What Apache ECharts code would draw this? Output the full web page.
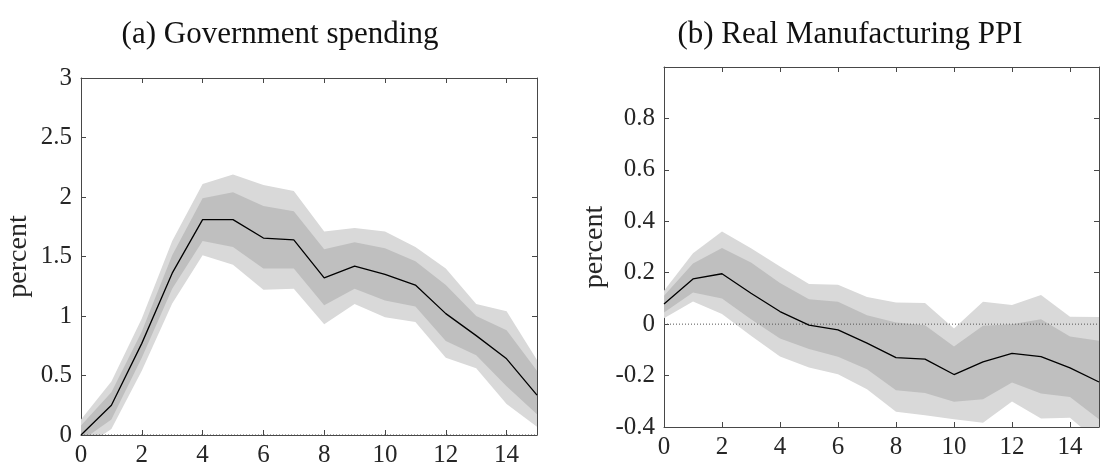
<!DOCTYPE html>
<html>
<head>
<meta charset="utf-8">
<script src="https://cdn.jsdelivr.net/npm/echarts@6/dist/echarts.min.js"></script>
<style>
  html, body { margin: 0; padding: 0; background: #fff; }
  #chart { width: 1102px; height: 468px; }
</style>
</head>
<body>
<div id="chart"></div>
<script>
// Horizons (quarters after the shock)
const horizons = [0, 1, 2, 3, 4, 5, 6, 7, 8, 9, 10, 11, 12, 13, 14, 15];

// (a) Government spending: median response and credible bands (percent)
const govMedian  = [0.00, 0.25, 0.77, 1.36, 1.81, 1.81, 1.655, 1.64, 1.32, 1.42, 1.35, 1.26, 1.02, 0.835, 0.64, 0.335];
const govInnerLo = [-0.05, 0.13, 0.65, 1.23, 1.63, 1.58, 1.40, 1.40, 1.09, 1.23, 1.13, 1.08, 0.79, 0.67, 0.41, 0.175];
const govInnerHi = [0.08, 0.36, 0.87, 1.51, 1.99, 2.04, 1.925, 1.88, 1.56, 1.62, 1.57, 1.46, 1.26, 1.00, 0.88, 0.54];
const govOuterLo = [-0.12, 0.05, 0.54, 1.105, 1.51, 1.43, 1.22, 1.23, 0.93, 1.10, 0.99, 0.95, 0.65, 0.56, 0.26, 0.07];
const govOuterHi = [0.13, 0.45, 0.98, 1.63, 2.11, 2.19, 2.10, 2.05, 1.71, 1.74, 1.71, 1.58, 1.40, 1.10, 1.04, 0.63];

// (b) Real Manufacturing PPI: median response and credible bands (percent)
const ppiMedian  = [0.078, 0.176, 0.196, 0.12, 0.049, -0.004, -0.022, -0.074, -0.13, -0.136, -0.196, -0.147, -0.114, -0.126, -0.17, -0.225];
const ppiInnerLo = [0.045, 0.123, 0.10, 0.019, -0.056, -0.097, -0.127, -0.175, -0.257, -0.268, -0.302, -0.292, -0.227, -0.27, -0.283, -0.37];
const ppiInnerHi = [0.11, 0.236, 0.296, 0.24, 0.16, 0.097, 0.087, 0.035, 0.006, -0.004, -0.087, -0.006, 0.0, 0.019, -0.048, -0.065];
const ppiOuterLo = [0.023, 0.088, 0.039, -0.045, -0.126, -0.169, -0.195, -0.253, -0.341, -0.354, -0.37, -0.383, -0.301, -0.367, -0.364, -0.46];
const ppiOuterHi = [0.13, 0.276, 0.36, 0.295, 0.224, 0.156, 0.153, 0.106, 0.084, 0.082, -0.017, 0.087, 0.074, 0.113, 0.029, 0.028];

// Axis settings and labels
const xTickStep = 2;
const govYRange = [0, 3, 0.5];
const ppiYRange = [-0.4, 1.0, 0.2];
const panelTitles = ['(a) Government spending', '(b) Real Manufacturing PPI'];
const yAxisName = 'percent';

const SERIF = '"Liberation Serif", "DejaVu Serif", serif';
const AXIS_COLOR = '#474747';
const LABEL_COLOR = '#262626';
const OUTER_FILL = '#d9d9d9';
const INNER_FILL = '#bfbfbf';

function pairs(values) {
  return horizons.map((h, i) => [h, values[i]]);
}

function xAxisDef(gridIndex, position) {
  const bottom = position === 'bottom';
  return {
    type: 'value', gridIndex, position,
    min: 0, max: 15, interval: xTickStep,
    axisLine: { show: true, onZero: false, lineStyle: { color: AXIS_COLOR, width: 1 } },
    axisTick: { show: true, inside: true, length: 5, lineStyle: { color: AXIS_COLOR } },
    axisLabel: {
      show: bottom, margin: 8, color: LABEL_COLOR, fontFamily: SERIF, fontSize: 25,
      formatter: v => (v === 15 ? '' : String(v))
    },
    splitLine: { show: false }
  };
}

function yAxisDef(gridIndex, position, range, withName, nameGap) {
  const left = position === 'left';
  return {
    type: 'value', gridIndex, position,
    min: range[0], max: range[1], interval: range[2],
    axisLine: { show: true, onZero: false, lineStyle: { color: AXIS_COLOR, width: 1 } },
    axisTick: { show: true, inside: true, length: 5, lineStyle: { color: AXIS_COLOR } },
    axisLabel: {
      show: left, margin: 9, color: LABEL_COLOR, fontFamily: SERIF, fontSize: 25,
      formatter: v => (range[1] === 1.0 && Math.abs(v - range[1]) < 1e-9 ? '' : String(+v.toFixed(2)))
    },
    splitLine: { show: false },
    name: withName ? yAxisName : '',
    nameLocation: 'middle',
    nameGap: nameGap,
    nameRotate: 90,
    nameTextStyle: { color: LABEL_COLOR, fontFamily: SERIF, fontSize: 28 }
  };
}

// Filled band between a lower and an upper bound, projected through the axes
function bandSeries(axisIdx, lo, hi, color) {
  return {
    type: 'custom', xAxisIndex: axisIdx, yAxisIndex: axisIdx,
    clip: true, silent: true, animation: false,
    data: [[horizons[0], lo[0]]],
    renderItem: (params, api) => {
      const pts = [];
      for (let i = 0; i < horizons.length; i++) pts.push(api.coord([horizons[i], hi[i]]));
      for (let i = horizons.length - 1; i >= 0; i--) pts.push(api.coord([horizons[i], lo[i]]));
      return { type: 'polygon', shape: { points: pts }, style: { fill: color, stroke: null } };
    }
  };
}

function panelSeries(axisIdx, med, inLo, inHi, outLo, outHi) {
  return [
    bandSeries(axisIdx, outLo, outHi, OUTER_FILL),
    bandSeries(axisIdx, inLo, inHi, INNER_FILL),
    {
      type: 'line', xAxisIndex: axisIdx, yAxisIndex: axisIdx, animation: false,
      data: [[0, 0], [15, 0]], symbol: 'none', silent: true,
      lineStyle: { color: '#555', width: 1, type: [1, 2] }
    },
    {
      type: 'line', xAxisIndex: axisIdx, yAxisIndex: axisIdx, animation: false,
      data: pairs(med), symbol: 'none', silent: true,
      lineStyle: { color: '#000', width: 1.3 }
    }
  ];
}

const chart = echarts.init(document.getElementById('chart'), null, { renderer: 'canvas' });
chart.setOption({
  animation: false,
  backgroundColor: '#fff',
  title: [
    { text: panelTitles[0], left: 275, top: 14, textAlign: 'center',
      textStyle: { fontFamily: SERIF, fontSize: 31, fontWeight: 'normal', color: '#111' } },
    { text: panelTitles[1], left: 845, top: 14, textAlign: 'center',
      textStyle: { fontFamily: SERIF, fontSize: 31, fontWeight: 'normal', color: '#111' } }
  ],
  grid: [
    { left: 81, top: 78, width: 456, height: 360 },
    { left: 664, top: 67, width: 448, height: 360 }
  ],
  xAxis: [
    xAxisDef(0, 'bottom'), xAxisDef(0, 'top'),
    xAxisDef(1, 'bottom'), xAxisDef(1, 'top')
  ],
  yAxis: [
    yAxisDef(0, 'left', govYRange, true, 48),
    yAxisDef(0, 'right', govYRange, false, 0),
    yAxisDef(1, 'left', ppiYRange, true, 55),
    yAxisDef(1, 'right', ppiYRange, false, 0)
  ],
  series: [].concat(
    panelSeries(0, govMedian, govInnerLo, govInnerHi, govOuterLo, govOuterHi),
    panelSeries(2, ppiMedian, ppiInnerLo, ppiInnerHi, ppiOuterLo, ppiOuterHi)
  )
});
</script>
</body>
</html>
